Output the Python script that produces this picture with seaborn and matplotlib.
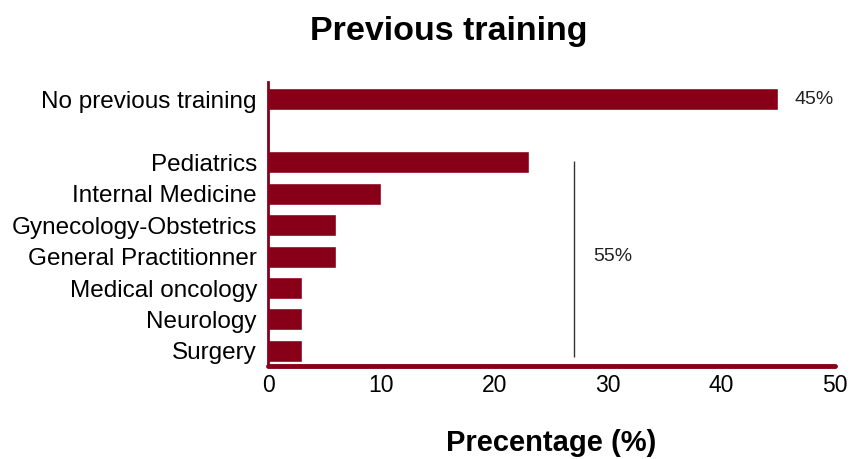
import pandas as pd
import numpy as np
import seaborn as sns
import matplotlib.pyplot as plt

# data
categories = ['No previous training', 'Pediatrics', 'Internal Medicine', 'Gynecology-Obstetrics',
              'General Practitionner', 'Medical oncology', 'Neurology', 'Surgery']
percentages = [45, 23, 10, 6, 6, 3, 3, 3]
no_training_label = '45%'
training_label = '55%'

bar_color = '#870018'

sns.set_style('white')
plt.rcParams['font.family'] = ['Liberation Sans', 'DejaVu Sans']

df = pd.DataFrame({'category': categories, 'pct': percentages})

# blank slot between "no training" and the specialties
order = [categories[0], ' '] + categories[1:]

fig = plt.figure(figsize=(8.52, 4.59), dpi=100)
ax = fig.add_axes([0.3146, 0.2026, 0.6655, 0.6188])

sns.barplot(data=df, x='pct', y='category', order=order, color=bar_color,
            saturation=1, width=0.7, ax=ax)

ax.set_xlim(0, 50)
ax.set_ylim(8.48, -0.55)
ax.set_xticks([0, 10, 20, 30, 40, 50])
ax.tick_params(axis='both', length=0, colors='black')
ax.tick_params(axis='y', labelsize=17.5, pad=8)
ax.tick_params(axis='x', labelsize=16.5, pad=6)
ax.set_ylabel('')
ax.set_xlabel('Precentage (%)', fontsize=21, fontweight='bold', labelpad=23, color='black')

fig.suptitle('Previous training', x=0.527, y=0.965, fontsize=24.5, fontweight='bold', color='black')

for side in ['top', 'right']:
    ax.spines[side].set_visible(False)
ax.spines['left'].set_color(bar_color)
ax.spines['left'].set_linewidth(2)
ax.spines['bottom'].set_color(bar_color)
ax.spines['bottom'].set_linewidth(3.5)
ax.spines['bottom'].set_capstyle('round')

# bracket line for the trained group and share labels
ax.vlines(27, 1.95, 8.2, color='#333333', linewidth=1)
ax.text(28.7, 5, training_label, va='center', ha='left', fontsize=14, color='#222222')
ax.text(46.4, 0, no_training_label, va='center', ha='left', fontsize=14, color='#222222')

fig.savefig('out.png', dpi=100, facecolor='w')
